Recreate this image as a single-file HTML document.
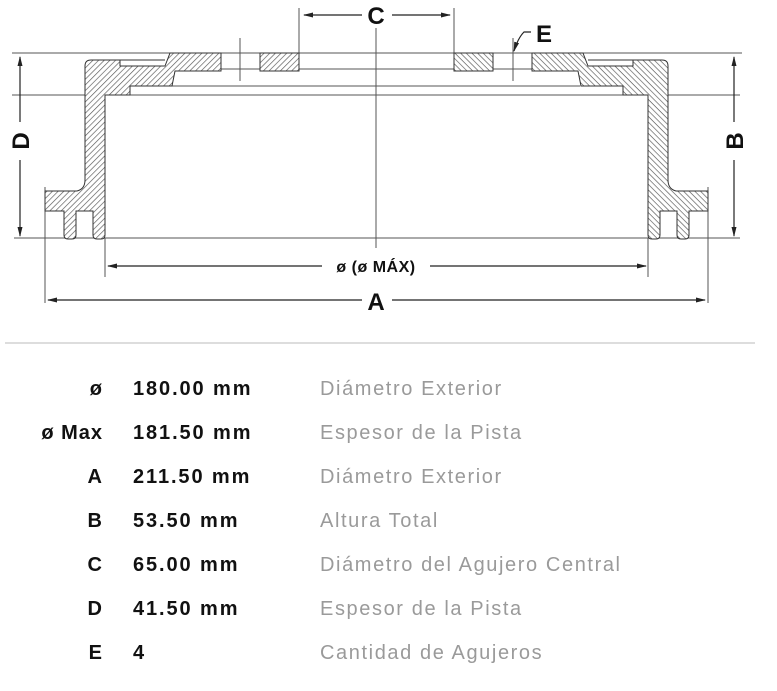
<!DOCTYPE html>
<html><head><meta charset="utf-8"><style>
body{margin:0;background:#fff;width:777px;height:691px;overflow:hidden;position:relative;font-family:"Liberation Sans",sans-serif}
.r{position:absolute;left:0;width:777px;height:24px;font-size:20px}
.r span{position:absolute;top:0;white-space:nowrap}
.a{right:674px;font-weight:bold;color:#111;text-align:right;letter-spacing:1px}
.b{left:133px;font-weight:bold;color:#111;letter-spacing:1.9px}
.c{left:320px;color:#9a9a9a;letter-spacing:1.6px}
</style></head><body>
<svg width="777" height="340" style="position:absolute;left:0;top:0">
<defs>
<pattern id="h" width="4" height="4" patternUnits="userSpaceOnUse" patternTransform="rotate(45)">
<rect width="4" height="4" fill="#fff"/><line x1="0" y1="0" x2="0" y2="4" stroke="#555" stroke-width="1.3"/></pattern>
<marker id="ar" markerWidth="10" markerHeight="8" refX="9" refY="4" orient="auto" markerUnits="userSpaceOnUse"><path d="M0,1.5 L10,4 L0,6.5Z" fill="#222"/></marker>
<g id="half">
<path d="M85,66 Q85,60 91,60 L120,60 L120,66 L165,66 L170,53 L221,53 L221,71 L175,71 L172,86 L130,86 L130,95 L105,95 L105,235 Q105,239 101,239 L97,239 Q93,239 93,235 L93,211 L76,211 L76,235 Q76,239 72,239 L68,239 Q64,239 64,235 L64,211 L45,211 L45,191 L77,191 Q85,189 85,180 Z" fill="url(#h)" stroke="#333" stroke-width="1"/>
<line x1="120" y1="60" x2="165" y2="60" stroke="#333"/>
<rect x="260" y="53" width="39" height="18" fill="url(#h)" stroke="#333"/>
</g>
</defs>
<g stroke="#555" stroke-width="1" fill="none">
<line x1="12" y1="53" x2="742" y2="53"/>
<line x1="12" y1="95" x2="740" y2="95"/>
<line x1="14" y1="238" x2="740" y2="238"/>
<line x1="221" y1="69" x2="532" y2="69"/>
<line x1="172" y1="86" x2="580" y2="86"/>
<line x1="376" y1="28" x2="376" y2="248"/>
<line x1="240" y1="38" x2="240" y2="81"/>
<line x1="513" y1="38" x2="513" y2="81"/>
<line x1="299" y1="8" x2="299" y2="69"/>
<line x1="454" y1="8" x2="454" y2="69"/>
<line x1="105" y1="238" x2="105" y2="277"/>
<line x1="648" y1="238" x2="648" y2="277"/>
<line x1="45" y1="187" x2="45" y2="303"/>
<line x1="708" y1="187" x2="708" y2="303"/>
</g>
<use href="#half"/>
<use href="#half" transform="translate(753,0) scale(-1,1)"/>
<g stroke="#222" stroke-width="1.2" fill="none">
<line x1="362" y1="15" x2="304" y2="15" marker-end="url(#ar)"/>
<line x1="392" y1="15" x2="450" y2="15" marker-end="url(#ar)"/>
<line x1="20" y1="122" x2="20" y2="57" marker-end="url(#ar)"/>
<line x1="20" y1="160" x2="20" y2="236" marker-end="url(#ar)"/>
<line x1="734" y1="122" x2="734" y2="57" marker-end="url(#ar)"/>
<line x1="734" y1="160" x2="734" y2="236" marker-end="url(#ar)"/>
<line x1="322" y1="266" x2="108" y2="266" marker-end="url(#ar)"/>
<line x1="430" y1="266" x2="646" y2="266" marker-end="url(#ar)"/>
<line x1="362" y1="300" x2="48" y2="300" marker-end="url(#ar)"/>
<line x1="392" y1="300" x2="705" y2="300" marker-end="url(#ar)"/>
<path d="M531,32 L524,32 Q518,38 514,51" marker-end="url(#ar)"/>
</g>
<g font-family="Liberation Sans,sans-serif" font-weight="bold" fill="#111">
<text x="376" y="24" font-size="24" text-anchor="middle">C</text>
<text x="544" y="42" font-size="24" text-anchor="middle">E</text>
<text x="376" y="310" font-size="24" text-anchor="middle">A</text>
<text x="376" y="272" font-size="16" text-anchor="middle" letter-spacing="0.5">ø (ø MÁX)</text>
<text transform="translate(29,141) rotate(-90)" font-size="24" text-anchor="middle">D</text>
<text transform="translate(743,141) rotate(-90)" font-size="24" text-anchor="middle">B</text>
</g>
</svg>
<div style="position:absolute;left:5px;top:342px;width:750px;height:2px;background:#ddd"></div>
<div class="r" style="top:378px"><span class="a">ø</span><span class="b">180.00 mm</span><span class="c">Diámetro Exterior</span></div>
<div class="r" style="top:422px"><span class="a">ø Max</span><span class="b">181.50 mm</span><span class="c">Espesor de la Pista</span></div>
<div class="r" style="top:466px"><span class="a">A</span><span class="b">211.50 mm</span><span class="c">Diámetro Exterior</span></div>
<div class="r" style="top:510px"><span class="a">B</span><span class="b">53.50 mm</span><span class="c">Altura Total</span></div>
<div class="r" style="top:554px"><span class="a">C</span><span class="b">65.00 mm</span><span class="c">Diámetro del Agujero Central</span></div>
<div class="r" style="top:598px"><span class="a">D</span><span class="b">41.50 mm</span><span class="c">Espesor de la Pista</span></div>
<div class="r" style="top:642px"><span class="a">E</span><span class="b">4</span><span class="c">Cantidad de Agujeros</span></div>
</body></html>
